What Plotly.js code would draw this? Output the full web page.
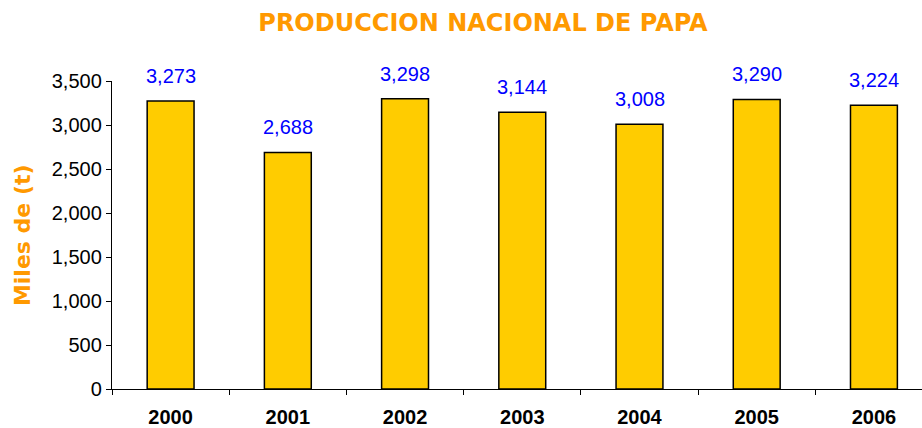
<!DOCTYPE html>
<html>
<head>
<meta charset="utf-8">
<script src="https://cdn.plot.ly/plotly-3.0.1.min.js"></script>
<style>html,body{margin:0;padding:0;background:#fff;}#chart{width:922px;height:428px;}</style>
</head>
<body>
<div id="chart"></div>
<script>
var years = ['2000', '2001', '2002', '2003', '2004', '2005', '2006'];
var production = [3273, 2688, 3298, 3144, 3008, 3290, 3224];
var valueLabels = ['3,273', '2,688', '3,298', '3,144', '3,008', '3,290', '3,224'];
var yTicks = [0, 500, 1000, 1500, 2000, 2500, 3000, 3500];
var yTickLabels = ['0', '500', '1,000', '1,500', '2,000', '2,500', '3,000', '3,500'];

var trace = {
  type: 'bar',
  x: years,
  y: production,
  width: 0.4,
  marker: {color: '#FFCC00', line: {color: '#000000', width: 1.5}},
  hoverinfo: 'x+y'
};

var annotations = years.map(function (yr, i) {
  return {
    x: i, y: production[i], xref: 'x', yref: 'y',
    text: valueLabels[i], showarrow: false,
    xanchor: 'center', yanchor: 'bottom', yshift: 12,
    font: {family: 'Liberation Sans, Arial, sans-serif', size: 20, color: '#0000FF'}
  };
});
annotations.push({
  xref: 'paper', yref: 'paper', x: -0.111, y: 0.5,
  xanchor: 'center', yanchor: 'middle', textangle: -90,
  text: '<b>Miles de (t)</b>', showarrow: false,
  font: {family: 'DejaVu Sans, Verdana, sans-serif', size: 22, color: '#FF9900'}
});

var layout = {
  width: 922, height: 428,
  margin: {l: 112, r: 0, t: 81, b: 39},
  paper_bgcolor: '#ffffff', plot_bgcolor: '#ffffff',
  showlegend: false,
  title: {
    text: '<b>PRODUCCION NACIONAL DE PAPA</b>',
    font: {family: 'DejaVu Sans, Verdana, sans-serif', size: 24, color: '#FF9900'},
    x: 483 / 922, xanchor: 'center', xref: 'container',
    y: 1 - 23 / 428, yanchor: 'middle', yref: 'container'
  },
  xaxis: {
    type: 'category',
    range: [-0.5, 6.41],
    showline: true, linecolor: '#000000', linewidth: 1.2,
    ticks: 'outside', tickson: 'boundaries', ticklen: 5, tickcolor: '#000000', tickwidth: 1,
    ticklabelstandoff: 10,
    showgrid: false, zeroline: false,
    tickfont: {family: 'Liberation Sans, Arial, sans-serif', size: 20, color: '#000000', weight: 'bold'},
    fixedrange: true
  },
  yaxis: {
    range: [0, 3500],
    tickvals: yTicks, ticktext: yTickLabels,
    showline: true, linecolor: '#000000', linewidth: 1.2,
    ticks: 'outside', ticklen: 5, tickcolor: '#000000', tickwidth: 1,
    showgrid: false, zeroline: false,
    tickfont: {family: 'Liberation Sans, Arial, sans-serif', size: 20, color: '#000000'},
    fixedrange: true
  },
  annotations: annotations
};

Plotly.newPlot('chart', [trace], layout, {displayModeBar: false, staticPlot: true});
</script>
</body>
</html>
